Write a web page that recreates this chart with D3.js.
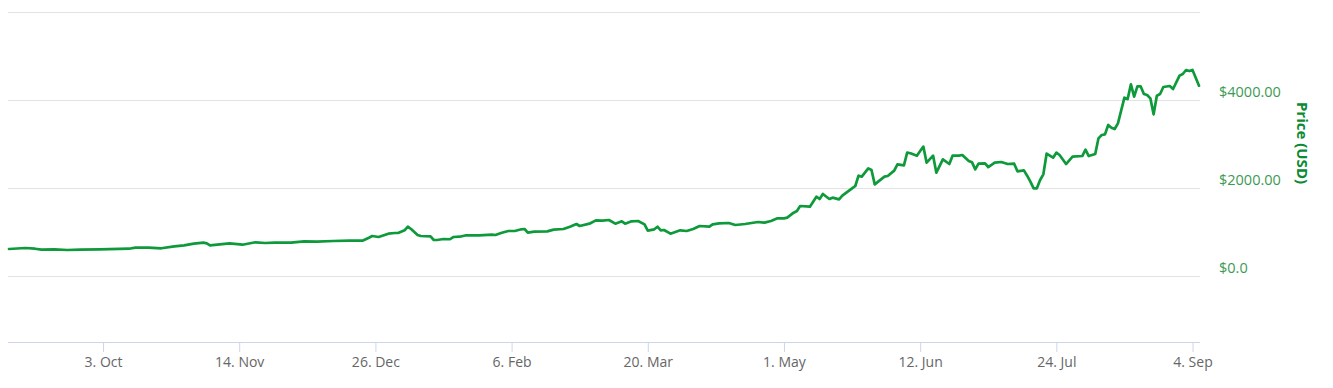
<!DOCTYPE html>
<html>
<head>
<meta charset="utf-8">
<script src="https://cdn.jsdelivr.net/npm/d3@7"></script>
<style>
  html, body { margin: 0; padding: 0; background: #ffffff; }
  svg { display: block; }
</style>
</head>
<body>
<svg id="chart" width="1333" height="388"></svg>
<script>
const dates = [
  "2016-09-04","2016-09-09","2016-09-12","2016-09-14","2016-09-18","2016-09-22","2016-09-26","2016-10-02",
  "2016-10-11","2016-10-13","2016-10-17","2016-10-21","2016-10-25","2016-10-28","2016-10-31","2016-11-03",
  "2016-11-04","2016-11-05","2016-11-08","2016-11-11","2016-11-15","2016-11-19","2016-11-22","2016-11-25",
  "2016-11-30","2016-12-04","2016-12-08","2016-12-13","2016-12-18","2016-12-22","2016-12-24","2016-12-25",
  "2016-12-27","2016-12-30","2017-01-01","2017-01-02","2017-01-04","2017-01-05","2017-01-06","2017-01-08",
  "2017-01-09","2017-01-12","2017-01-13","2017-01-14","2017-01-16","2017-01-18","2017-01-19","2017-01-21",
  "2017-01-23","2017-01-27","2017-01-31","2017-02-01","2017-02-03","2017-02-05","2017-02-07","2017-02-09",
  "2017-02-10","2017-02-11","2017-02-13","2017-02-17","2017-02-19","2017-02-22","2017-02-24","2017-02-26",
  "2017-02-27","2017-03-02","2017-03-04","2017-03-06","2017-03-08","2017-03-10","2017-03-12","2017-03-13",
  "2017-03-15","2017-03-17","2017-03-19","2017-03-20","2017-03-22","2017-03-23","2017-03-24","2017-03-25",
  "2017-03-27","2017-03-30","2017-04-01","2017-04-03","2017-04-05","2017-04-08","2017-04-09","2017-04-11",
  "2017-04-14","2017-04-16","2017-04-19","2017-04-21","2017-04-23","2017-04-25","2017-04-27","2017-04-29",
  "2017-05-01","2017-05-02","2017-05-04","2017-05-05","2017-05-06","2017-05-09","2017-05-11","2017-05-12",
  "2017-05-13","2017-05-15","2017-05-16","2017-05-18","2017-05-19","2017-05-22","2017-05-23","2017-05-24",
  "2017-05-25","2017-05-27","2017-05-28","2017-05-29","2017-06-01","2017-06-02","2017-06-04","2017-06-05",
  "2017-06-07","2017-06-08","2017-06-09","2017-06-11","2017-06-12","2017-06-13","2017-06-14","2017-06-16",
  "2017-06-17","2017-06-19","2017-06-21","2017-06-22","2017-06-24","2017-06-25","2017-06-27","2017-06-28",
  "2017-06-29","2017-06-30","2017-07-02","2017-07-03","2017-07-05","2017-07-07","2017-07-09","2017-07-11",
  "2017-07-12","2017-07-14","2017-07-15","2017-07-16","2017-07-17","2017-07-18","2017-07-19","2017-07-20",
  "2017-07-21","2017-07-23","2017-07-24","2017-07-25","2017-07-27","2017-07-29","2017-08-01","2017-08-02",
  "2017-08-03","2017-08-05","2017-08-06","2017-08-07","2017-08-08","2017-08-09","2017-08-10","2017-08-11",
  "2017-08-12","2017-08-14","2017-08-15","2017-08-16","2017-08-17","2017-08-18","2017-08-19","2017-08-20",
  "2017-08-21","2017-08-22","2017-08-23","2017-08-24","2017-08-25","2017-08-26","2017-08-28","2017-08-29",
  "2017-08-31","2017-09-01","2017-09-02","2017-09-03","2017-09-04","2017-09-06"
];
const prices = [
  614,636,620,598,605,591,598,607,
  620,643,643,630,675,697,734,757,
  743,697,720,743,711,766,750,757,
  757,788,780,795,802,802,870,909,
  886,962,977,977,1038,1121,1068,932,
  909,902,818,818,841,835,886,893,
  925,925,939,932,984,1023,1023,1061,
  1068,984,1007,1015,1053,1068,1121,1182,
  1136,1189,1265,1258,1273,1189,1242,1189,
  1242,1250,1174,1030,1061,1121,1038,1045,
  962,1038,1023,1068,1136,1121,1174,1197,
  1205,1159,1182,1205,1227,1212,1250,1310,
  1310,1326,1439,1477,1591,1576,1803,1750,
  1864,1750,1780,1742,1826,1992,2045,2280,
  2258,2447,2409,2083,2258,2273,2394,2538,
  2515,2803,2790,2735,2841,2939,2576,2735,
  2348,2652,2545,2735,2735,2750,2614,2583,
  2424,2553,2560,2477,2576,2591,2545,2553,
  2379,2401,2280,2144,1992,1992,2182,2311,
  2780,2689,2803,2750,2545,2712,2727,2871,
  2727,2773,3129,3205,3220,3432,3371,3341,
  3470,4053,4023,4356,4076,4311,4311,4136,
  4114,4038,3674,4098,4136,4295,4318,4250,
  4553,4591,4682,4659,4682,4326
];
const xTickDates = ["2016-10-03","2016-11-14","2016-12-26","2017-02-06","2017-03-20","2017-05-01","2017-06-12","2017-07-24","2017-09-04"];
const xTickLabels = ["3. Oct","14. Nov","26. Dec","6. Feb","20. Mar","1. May","12. Jun","24. Jul","4. Sep"];
const yGridValues = [0, 2000, 4000, 6000];
const yTickValues = [0, 2000, 4000];
const yTickLabels = ["$0.0", "$2000.00", "$4000.00"];
const xDomain = ["2016-09-04", "2017-09-06"];
const yDomain = [-1500, 6000];
const yTitle = "Price (USD)";

(function () {
  const parse = d3.timeParse("%Y-%m-%d");
  const data = dates.map((d, i) => ({ date: parse(d), value: prices[i] }));

  const svg = d3.select("#chart");
  const plotLeft = 9, plotRight = 1199, plotTop = 12, plotBottom = 342;

  const x = d3.scaleTime().domain(xDomain.map(parse)).range([plotLeft, plotRight]);
  const y = d3.scaleLinear().domain(yDomain).range([plotBottom, plotTop]);

  const font = "'Open Sans', sans-serif";

  // grid lines
  svg.append("g")
    .selectAll("line")
    .data(yGridValues)
    .join("line")
    .attr("x1", plotLeft - 1)
    .attr("x2", plotRight + 1)
    .attr("y1", d => Math.round(y(d)) + 0.5)
    .attr("y2", d => Math.round(y(d)) + 0.5)
    .attr("stroke", "#e3e3e3")
    .attr("stroke-width", 1);

  // x axis
  const xAxis = d3.axisBottom(x)
    .tickValues(xTickDates.map(parse))
    .tickFormat((d, i) => xTickLabels[i])
    .tickSize(10)
    .tickSizeOuter(0);

  const gx = svg.append("g")
    .attr("transform", `translate(0,${plotBottom})`)
    .call(xAxis);
  gx.select(".domain")
    .attr("d", `M${plotLeft - 1},0.5H${plotRight + 1}`)
    .attr("stroke", "#ccd6eb");
  gx.selectAll(".tick line").attr("stroke", "#ccd6eb");
  gx.selectAll(".tick text")
    .attr("y", 15)
    .attr("dy", "0.71em")
    .attr("fill", "#666666")
    .style("font-family", font)
    .style("font-size", "14px");

  // y labels (right side)
  svg.append("g")
    .selectAll("text")
    .data(yTickValues)
    .join("text")
    .attr("x", 1219)
    .attr("y", d => y(d) - 3)
    .attr("fill", "#3c9a52")
    .style("font-family", font)
    .style("font-size", "14.5px")
    .text((d, i) => yTickLabels[i]);

  // y title
  svg.append("text")
    .attr("transform", "translate(1297,143) rotate(90)")
    .attr("text-anchor", "middle")
    .attr("fill", "#0c8a34")
    .style("font-family", font)
    .style("font-size", "15px")
    .style("font-weight", "bold")
    .text(yTitle);

  // line
  const line = d3.line()
    .x(d => x(d.date))
    .y(d => y(d.value));

  svg.append("path")
    .datum(data)
    .attr("fill", "none")
    .attr("stroke", "#0e9a3b")
    .attr("stroke-width", 2.7)
    .attr("stroke-linejoin", "round")
    .attr("stroke-linecap", "round")
    .attr("d", line);
})();
</script>
</body>
</html>
